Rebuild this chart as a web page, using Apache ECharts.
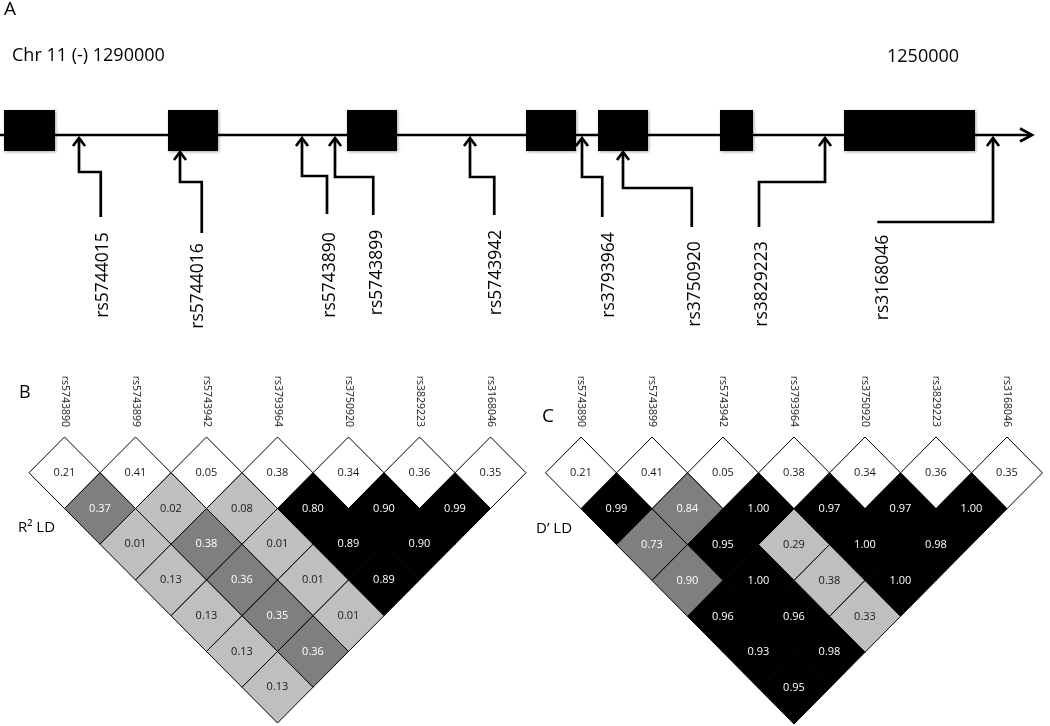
<!DOCTYPE html>
<html><head><meta charset="utf-8">
<script src="https://cdn.jsdelivr.net/npm/echarts@6/dist/echarts.min.js"></script>
<style>html,body{margin:0;padding:0;background:#fff}#c{width:1050px;height:726px}</style>
</head><body><div id="c"></div>
<script>
// ================= DATA =================
// Panel A: gene structure (positions in kb on chr 11, minus strand)
const geneSnps = ['rs5744015','rs5744016','rs5743890','rs5743899','rs5743942','rs3793964','rs3750920','rs3829223','rs3168046'];
const geneSnpPosKb = [1287.24,1283.20,1278.32,1277.00,1271.60,1267.12,1265.48,1257.40,1250.68];
const exonStartKb = [1290.24,1283.68,1276.52,1269.36,1266.48,1261.60,1256.64];
const exonEndKb   = [1288.20,1281.68,1274.52,1267.36,1264.48,1260.28,1251.40];
const regionStartLabel = 'Chr 11 (-) 1290000';
const regionEndLabel = '1250000';
const geneLineKb = [1290.40, 1249.12];

// Panels B and C: pairwise LD
const ldSnps = ['rs5743890','rs5743899','rs5743942','rs3793964','rs3750920','rs3829223','rs3168046'];
const r2Values = [
  [0.21,0.41,0.05,0.38,0.34,0.36,0.35],
  [0.37,0.02,0.08,0.80,0.90,0.99],
  [0.01,0.38,0.01,0.89,0.90],
  [0.13,0.36,0.01,0.89],
  [0.13,0.35,0.01],
  [0.13,0.36],
  [0.13]
];
// LD shading class: 0 none, 1 low, 2 medium, 3 strong
const r2Shade = [
  [0,0,0,0,0,0,0],
  [2,1,1,3,3,3],
  [1,2,1,3,3],
  [1,2,1,3],
  [1,2,1],
  [1,2],
  [1]
];
const dpValues = [
  [0.21,0.41,0.05,0.38,0.34,0.36,0.35],
  [0.99,0.84,1.00,0.97,0.97,1.00],
  [0.73,0.95,0.29,1.00,0.98],
  [0.90,1.00,0.38,1.00],
  [0.96,0.96,0.33],
  [0.93,0.98],
  [0.95]
];
const dpShade = [
  [0,0,0,0,0,0,0],
  [3,2,3,3,3,3],
  [2,3,1,3,3],
  [2,3,1,3],
  [3,3,1],
  [3,3],
  [3]
];

// ================= LAYOUT / STYLE =================
const FONT = 'Open Sans';
const shadeFill = ['#ffffff','#bfbfbf','#7f7f7f','#000000'];
const shadeText = ['#1a1a1a','#1a1a1a','#ffffff','#ffffff'];
// callout layout per SNP: [arrowTipY, jogY, leadKb, endY, labelKb, labelY]  (track y units)
const calloutLayout = [
  [138,172,1286.37,217,1286.28,275],
  [152,182,1282.33,233,1282.48,286],
  [138,176,1277.32,214,1277.20,275],
  [138,177,1275.47,215,1275.33,272.5],
  [138,177,1270.63,215,1270.57,272.5],
  [138,177,1266.31,217,1266.04,275],
  [152,188,1262.73,227,1262.60,284],
  [138,182,1260.04,227,1259.93,284],
  [138,222,1255.31,222,1255.07,277.5]
];
const exonTop = 110, exonBottom = 151, lineY = 135;

const chart = echarts.init(document.getElementById('c'), null, {renderer:'canvas'});

function diamondSeries(values, shades, xIdx, yIdx) {
  const data = [];
  values.forEach((row, r) => row.forEach((v, c) => data.push([c + r / 2, r / 2, v, shades[r][c]])));
  return {
    type: 'custom', xAxisIndex: xIdx, yAxisIndex: yIdx, data: data,
    encode: {x: 0, y: 1},
    renderItem: function (params, api) {
      const cx = api.value(0), cy = api.value(1), v = api.value(2), s = api.value(3);
      const pts = [[cx - 0.5, cy], [cx, cy - 0.5], [cx + 0.5, cy], [cx, cy + 0.5]].map(p => api.coord(p));
      const ctr = api.coord([cx, cy]);
      return {
        type: 'group',
        children: [
          {type: 'polygon', shape: {points: pts}, style: {fill: shadeFill[s], stroke: '#000', lineWidth: 1}},
          {type: 'text', x: ctr[0], y: ctr[1], z2: 10,
           style: {text: v.toFixed(2), fill: shadeText[s], fontSize: 11, fontFamily: FONT, align: 'center', verticalAlign: 'middle'}}
        ]
      };
    }
  };
}

const option = {
  animation: false,
  backgroundColor: '#fff',
  title: [
    {text: 'A', left: 4, top: 0, padding: 0, textStyle: {fontSize: 19, fontWeight: 'normal', fontFamily: FONT, color: '#000'}},
    {text: regionStartLabel, left: 12, top: 47, padding: 0, textStyle: {fontSize: 18, fontWeight: 'normal', fontFamily: FONT, color: '#000'}},
    {text: regionEndLabel, left: 887, top: 48, padding: 0, textStyle: {fontSize: 18, fontWeight: 'normal', fontFamily: FONT, color: '#000'}},
    {text: 'B', left: 19, top: 384, padding: 0, textStyle: {fontSize: 18, fontWeight: 'normal', fontFamily: FONT, color: '#000'}},
    {text: 'C', left: 542, top: 407, padding: 0, textStyle: {fontSize: 19, fontWeight: 'normal', fontFamily: FONT, color: '#000'}},
    {text: 'R² LD', left: 18, top: 520, padding: 0, textStyle: {fontSize: 15, fontWeight: 'normal', fontFamily: FONT, color: '#000'}},
    {text: 'D’ LD', left: 536, top: 521, padding: 0, textStyle: {fontSize: 15, fontWeight: 'normal', fontFamily: FONT, color: '#000'}}
  ],
  grid: [
    {left: 0, top: 0, width: 1050, height: 340},
    {left: 29, top: 437, width: 497, height: 286},
    {left: 545.5, top: 437, width: 497, height: 287}
  ],
  xAxis: [
    {type: 'value', gridIndex: 0, min: 1248.4, max: 1290.4, inverse: true, show: false},
    {type: 'value', gridIndex: 1, min: -0.5, max: 6.5, show: false},
    {type: 'category', gridIndex: 1, position: 'top', data: ldSnps, boundaryGap: true,
     axisLine: {show: false}, axisTick: {show: false}, splitLine: {show: false},
     axisLabel: {rotate: 90, margin: 10, fontSize: 10.5, fontFamily: FONT, color: '#222', interval: 0}},
    {type: 'value', gridIndex: 2, min: -0.5, max: 6.5, show: false},
    {type: 'category', gridIndex: 2, position: 'top', data: ldSnps, boundaryGap: true,
     axisLine: {show: false}, axisTick: {show: false}, splitLine: {show: false},
     axisLabel: {rotate: 90, margin: 10, fontSize: 10.5, fontFamily: FONT, color: '#222', interval: 0}}
  ],
  yAxis: [
    {type: 'value', gridIndex: 0, min: 0, max: 340, inverse: true, show: false},
    {type: 'value', gridIndex: 1, min: -0.5, max: 3.5, inverse: true, show: false},
    {type: 'value', gridIndex: 2, min: -0.5, max: 3.5, inverse: true, show: false}
  ],
  series: [
    // gene backbone with arrow
    {
      type: 'custom', xAxisIndex: 0, yAxisIndex: 0, data: [[geneLineKb[0], geneLineKb[1]]],
      encode: {x: [0, 1]},
      renderItem: function (params, api) {
        const a = api.coord([api.value(0), lineY]);
        const b = api.coord([api.value(1), lineY]);
        return {type: 'group', children: [
          {type: 'line', shape: {x1: a[0], y1: a[1], x2: b[0] - 1, y2: b[1]}, style: {stroke: '#000', lineWidth: 2.5}},
          {type: 'polyline', shape: {points: [[b[0] - 12, b[1] - 6.5], [b[0], b[1]], [b[0] - 12, b[1] + 6.5]]},
           style: {stroke: '#000', lineWidth: 2.7, fill: null}}
        ]};
      }
    },
    // exons
    {
      type: 'custom', xAxisIndex: 0, yAxisIndex: 0,
      data: exonStartKb.map((s, i) => [s, exonEndKb[i]]),
      encode: {x: [0, 1]},
      renderItem: function (params, api) {
        const p1 = api.coord([api.value(0), exonTop]);
        const p2 = api.coord([api.value(1), exonBottom]);
        return {type: 'rect', shape: {x: Math.min(p1[0], p2[0]), y: p1[1], width: Math.abs(p2[0] - p1[0]), height: p2[1] - p1[1]},
                style: {fill: '#000', shadowBlur: 3, shadowColor: 'rgba(0,0,0,0.35)', shadowOffsetX: 1, shadowOffsetY: 1}};
      }
    },
    // SNP callouts
    {
      type: 'custom', xAxisIndex: 0, yAxisIndex: 0,
      data: geneSnpPosKb.map((p, i) => [p, i]),
      encode: {x: 0},
      renderItem: function (params, api) {
        const pos = api.value(0), i = api.value(1);
        const L = calloutLayout[i];
        const tip = api.coord([pos, L[0]]);
        const pts = [api.coord([pos, L[0] + 1]), api.coord([pos, L[1]]), api.coord([L[2], L[1]])];
        if (L[3] !== L[1]) pts.push(api.coord([L[2], L[3]]));
        const lab = api.coord([L[4], L[5]]);
        return {type: 'group', children: [
          {type: 'polyline', shape: {points: pts}, style: {stroke: '#000', lineWidth: 2.7, fill: null}},
          {type: 'polyline', shape: {points: [[tip[0] - 6, tip[1] + 8], [tip[0], tip[1]], [tip[0] + 6, tip[1] + 8]]},
           style: {stroke: '#000', lineWidth: 2.7, fill: null}},
          {type: 'text', x: lab[0], y: lab[1], rotation: Math.PI / 2,
           style: {text: geneSnps[i], fill: '#000', fontSize: 17.5, fontFamily: FONT, align: 'center', verticalAlign: 'middle'}}
        ]};
      }
    },
    diamondSeries(r2Values, r2Shade, 1, 1),
    diamondSeries(dpValues, dpShade, 3, 2)
  ]
};
chart.setOption(option);
</script></body></html>
